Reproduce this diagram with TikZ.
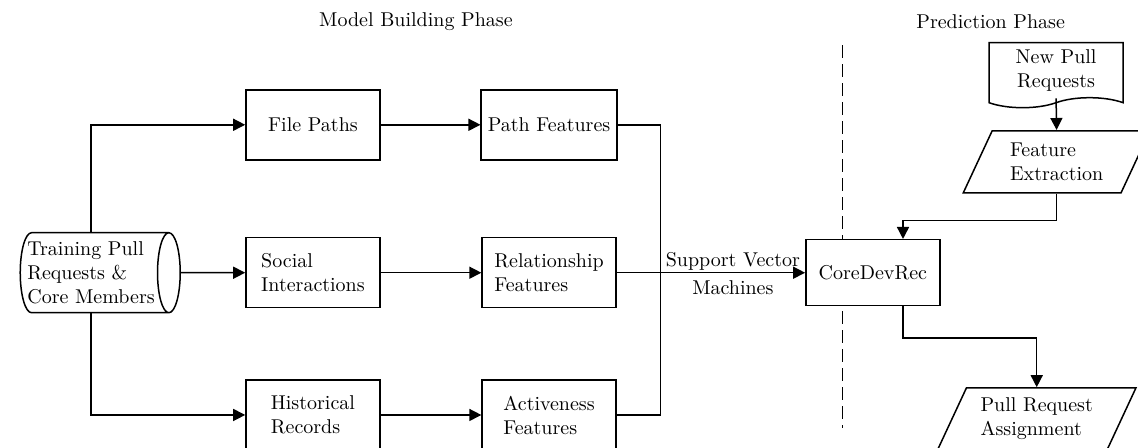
\documentclass[tikz,border=0pt]{standalone}
\usetikzlibrary{shapes.geometric,shapes.symbols,arrows.meta,positioning,calc}

\begin{document}
\begin{tikzpicture}[
  line width=0.75pt,
  box/.style={rectangle, draw, fill=white, align=left, minimum width=67pt, minimum height=35pt},
  io/.style={trapezium, trapezium left angle=65, trapezium right angle=115,
             draw, align=left, minimum height=31pt},
  doc/.style={tape, tape bend top=none, draw, align=center,
              minimum width=67pt, minimum height=26pt},
  store/.style={cylinder, draw, align=left, shape aspect=0.3, inner xsep=1pt,
                minimum width=40pt, minimum height=80pt},
  phase/.style={font=\normalsize},
  arr/.style={draw, -{Triangle[length=6pt,width=6pt]}},
  link/.style={draw},
]
  \clip (0,0) rectangle (20.0,7.873);

  % Phase headers
  \node[phase] (mb) at (7.31, 7.50) {Model Building Phase};
  \node[phase] (pp) at (17.41, 7.50) {Prediction Phase};

  % Phase separator
  \coordinate (sepT) at (14.81, 7.08);
  \coordinate (sepB) at (14.81, 0.35);
  \draw[dash pattern=on 6.5pt off 3pt] (sepT) -- (sepB);

  % Training data
  \node[store] (train) at (1.60, 3.08) {Training Pull\\Requests \&\\Core Members};

  % Raw data
  \node[box] (paths) at (5.50, 5.68) {File Paths};
  \node[box] (social) at (5.50, 3.08) {Social\\Interactions};
  \node[box] (hist) at (5.50, 0.58) {Historical\\Records};

  % Features
  \node[box] (pathf) at (9.65, 5.68) {Path Features};
  \node[box] (relf) at (9.65, 3.08) {Relationship\\Features};
  \node[box] (actf) at (9.65, 0.58) {Activeness\\Features};

  % Model
  \node[box, minimum height=33pt] (cdr) at (15.34, 3.08) {CoreDevRec};

  % Prediction side
  \node[doc] (newpr) at (18.56, 6.64) {New Pull\\Requests};
  \node[io] (fext) at (18.57, 5.03) {Feature\\Extraction};
  \node[io] (assign) at (18.22, 0.51) {Pull Request\\Assignment};

  \draw[arr] (train.north) |- (paths.west);
  \draw[arr] (train.east) -- (social.west);
  \draw[arr] (train.south) |- (hist.west);

  \draw[arr] (paths) -- (pathf);
  \draw[arr] (social) -- (relf);
  \draw[arr] (hist) -- (actf);

  % Merge into SVM
  \coordinate (merge) at (11.61, 3.08);
  \draw[link] (pathf.east) -| (merge);
  \draw[link] (actf.east) -| (merge);
  \draw[link] (relf.east) -- (merge);
  \draw[arr] (merge) -- node[above, inner sep=1pt]{Support Vector}
                         node[below]{Machines} (cdr.west);

  \draw[arr] (newpr.south) -- (fext.north);
  \draw[arr] (fext.south) -- ++(0,-0.47) -| ([xshift=0.53cm]cdr.north);
  \draw[arr] ([xshift=0.53cm]cdr.south) -- ++(0,-0.55) -| (assign.north);

\end{tikzpicture}
\end{document}
